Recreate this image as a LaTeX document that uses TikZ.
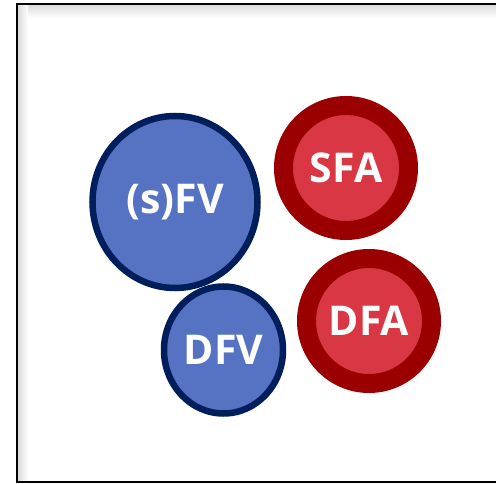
\documentclass[tikz,border=0pt]{standalone}
\usepackage{fontspec}
\newfontfamily\labelfont{Open Sans}
\usetikzlibrary{shapes.geometric}

\definecolor{fvfill}{HTML}{5572C3}
\definecolor{fvline}{HTML}{001E5B}
\definecolor{fafill}{HTML}{D83743}
\definecolor{faline}{HTML}{9B0000}

\tikzset{
    fvnode/.style={ellipse, draw=fvline, fill=fvfill, line width=6.5pt, inner sep=0pt,
        text=white, font=\labelfont\bfseries\fontsize{41}{41}\selectfont},
    fanode/.style={circle, draw=faline, fill=fafill, line width=19pt, inner sep=0pt,
        minimum size=125pt, text=white, font=\labelfont\bfseries\fontsize{41}{41}\selectfont}
}

\begin{document}
\begin{tikzpicture}[x=1pt, y=-1pt]
    \useasboundingbox (0,0) rectangle (496,484);
    % frame with soft shadow
    \shade[top color=black!14, bottom color=white] (18,5) rectangle (496,18);
    \shade[left color=black!14, right color=white] (18,5) rectangle (28,481);
    \draw[line width=2.6pt] (500,4) -- (17,4) -- (17,482) -- (500,482);

    % blue group
    \node[fvnode, minimum width=165pt, minimum height=172pt] (sfv) at (175,202) {(s)FV};
    \node[fvnode, minimum width=119pt, minimum height=127pt] (dfv) at (223.5,350) {DFV};

    % red group
    \node[fanode] (sfa) at (346,168) {SFA};
    \node[fanode] (dfa) at (369,321) {DFA};
\end{tikzpicture}
\end{document}
